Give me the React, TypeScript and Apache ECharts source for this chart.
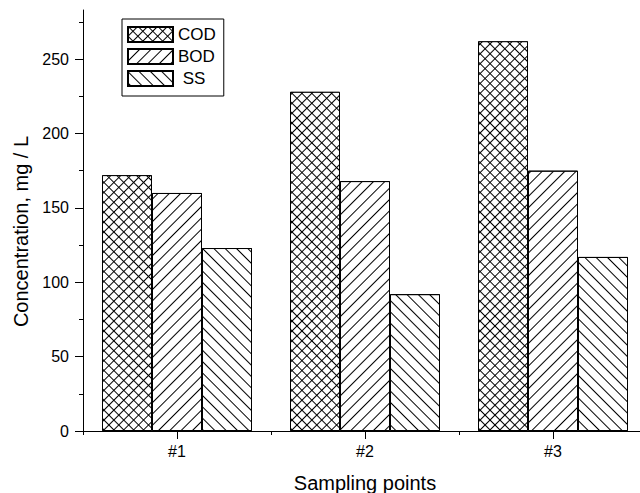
import React, { useEffect, useRef } from "react";
import * as echarts from "echarts";

const categories = ["#1", "#2", "#3"];
const codValues = [172, 228, 262];
const bodValues = [160, 168, 175];
const ssValues = [123, 92, 117];
const majorTicks = [0, 50, 100, 150, 200, 250];
const minorTicks = [25, 75, 125, 175, 225, 275];

const FONT = "'Liberation Sans', Arial, Helvetica, sans-serif";

export default function App() {
  const ref = useRef<HTMLDivElement>(null);
  useEffect(() => {
    if (!ref.current) return;
    const chart = echarts.init(ref.current, undefined, { renderer: "svg" });
    const black = "#000";
    chart.setOption({
      animation: false,
      backgroundColor: "#fff",
      textStyle: { fontFamily: FONT, color: black },
      grid: {
        left: 83,
        top: 10,
        width: 564,
        height: 421,
        containLabel: false,
        outerBoundsMode: "none",
      },
      legend: {
        orient: "vertical",
        left: 122,
        top: 19,
        icon: "rect",
        itemWidth: 45,
        itemHeight: 15,
        itemGap: 5,
        padding: [7, 8, 9, 5],
        borderColor: black,
        borderWidth: 1,
        backgroundColor: "#fff",
        data: ["COD", "BOD", "SS"],
        formatter: (name: string) => (name === "SS" ? " SS" : name),
        textStyle: { fontSize: 17, color: black, fontFamily: FONT },
      },
      xAxis: [
        {
          type: "category",
          data: categories,
          position: "bottom",
          axisLine: { show: true, lineStyle: { color: black, width: 1 } },
          axisTick: { show: true, alignWithLabel: true, length: 8, lineStyle: { color: black } },
          axisLabel: { fontSize: 16, color: black, margin: 12, fontFamily: FONT },
          name: "Sampling points",
          nameLocation: "middle",
          nameGap: 42,
          nameTextStyle: { fontSize: 20, color: black, fontFamily: FONT },
        },
        {
          type: "category",
          data: categories,
          position: "bottom",
          axisLine: { show: false },
          axisTick: { show: true, length: 4, lineStyle: { color: black } },
          axisLabel: { show: false },
        },
      ],
      yAxis: [
        {
          type: "value",
          min: 0,
          max: 283,
          interval: 50,
          position: "left",
          axisLine: { show: true, lineStyle: { color: black, width: 1 } },
          axisTick: { show: true, length: 8, customValues: majorTicks, lineStyle: { color: black } },
          axisLabel: { fontSize: 16, color: black, margin: 14, customValues: majorTicks, fontFamily: FONT },
          splitLine: { show: false },
          name: "Concentration, mg / L",
          nameLocation: "middle",
          nameGap: 49,
          nameTextStyle: { fontSize: 20, color: black, fontFamily: FONT, padding: [0, 22, 0, 0] },
        },
        {
          type: "value",
          min: 0,
          max: 283,
          interval: 25,
          position: "left",
          axisLine: { show: false },
          axisTick: { show: true, length: 4, customValues: minorTicks, lineStyle: { color: black } },
          axisLabel: { show: false },
          splitLine: { show: false },
        },
      ],
      series: [
        {
          name: "COD",
          type: "bar",
          data: codValues,
          barWidth: 50,
          barGap: "0%",
          itemStyle: {
            color: black,
            borderColor: black,
            borderWidth: 1,
            decal: {
              symbol: "rect",
              symbolSize: 1,
              dashArrayX: [6, 1],
              dashArrayY: [6, 1],
              rotation: Math.PI / 4,
              color: "#fff",
            },
          },
        },
        {
          name: "BOD",
          type: "bar",
          data: bodValues,
          barWidth: 50,
          barGap: "0%",
          itemStyle: {
            color: "#fff",
            borderColor: black,
            borderWidth: 1,
            decal: {
              symbol: "rect",
              symbolSize: 1,
              dashArrayX: [1, 0],
              dashArrayY: [1, 7],
              rotation: -Math.PI / 4,
              color: black,
            },
          },
        },
        {
          name: "SS",
          type: "bar",
          data: ssValues,
          barWidth: 50,
          barGap: "0%",
          itemStyle: {
            color: "#fff",
            borderColor: black,
            borderWidth: 1,
            decal: {
              symbol: "rect",
              symbolSize: 1,
              dashArrayX: [1, 0],
              dashArrayY: [1, 7],
              rotation: Math.PI / 4,
              color: black,
            },
          },
        },
      ],
    });
    return () => chart.dispose();
  }, []);
  return (
    <div
      ref={ref}
      style={{ position: "absolute", left: 0, top: 0, width: 640, height: 493 }}
    />
  );
}
